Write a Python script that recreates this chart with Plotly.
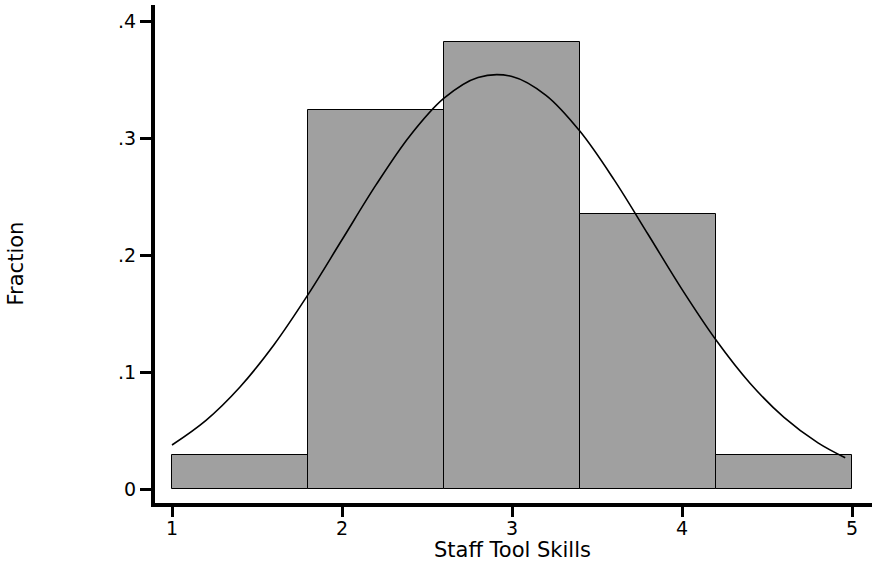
import plotly.graph_objects as go

# Histogram bins (centers) and fractions
bin_centers = [1.4, 2.2, 3.0, 3.8, 4.6]
bin_width = 0.8
fractions = [0.029, 0.324, 0.382, 0.235, 0.029]

# Overlaid normal curve
curve_x = [1.0, 1.2, 1.4, 1.6, 1.8, 2.0, 2.2, 2.4, 2.6, 2.8, 3.0,
           3.2, 3.4, 3.6, 3.8, 4.0, 4.2, 4.4, 4.6, 4.8, 4.96]
curve_y = [0.0376, 0.0587, 0.0872, 0.1233, 0.1661, 0.2130, 0.2599, 0.3020,
           0.3341, 0.3518, 0.3526, 0.3365, 0.3057, 0.2644, 0.2177, 0.1706,
           0.1273, 0.0904, 0.0612, 0.0394, 0.0267]

y_tickvals = [0, 0.1, 0.2, 0.3, 0.4]
y_ticktext = ["0", ".1", ".2", ".3", ".4"]
x_tickvals = [1, 2, 3, 4, 5]

FONT = "DejaVu Sans, Verdana, sans-serif"

fig = go.Figure()
fig.add_trace(go.Bar(
    x=bin_centers, y=fractions, width=bin_width,
    marker=dict(color="#a0a0a0", line=dict(color="black", width=1)),
    hoverinfo="skip", showlegend=False,
))
fig.add_trace(go.Scatter(
    x=curve_x, y=curve_y, mode="lines",
    line=dict(color="black", width=1.6, shape="spline"),
    hoverinfo="skip", showlegend=False,
))

fig.update_layout(
    width=874, height=569,
    margin=dict(l=155, r=2, t=5, b=66),
    paper_bgcolor="white", plot_bgcolor="white",
    font=dict(family=FONT, size=19, color="black"),
    bargap=0,
    xaxis=dict(
        range=[0.9, 5.1176], showgrid=False, zeroline=False,
        showline=True, linecolor="black", linewidth=4,
        ticks="outside", ticklen=10, tickwidth=3, tickcolor="black",
        tickvals=x_tickvals, ticktext=[str(v) for v in x_tickvals],
        tickfont=dict(size=19, family=FONT),
        ticklabelstandoff=-5,
    ),
    yaxis=dict(
        range=[-0.01197, 0.41368], showgrid=False, zeroline=False,
        showline=True, linecolor="black", linewidth=4,
        ticks="outside", ticklen=11, tickwidth=3, tickcolor="black",
        tickvals=y_tickvals, ticktext=y_ticktext,
        tickfont=dict(size=19, family=FONT),
    ),
    annotations=[
        dict(text="Staff Tool Skills", xref="paper", yref="paper",
             x=0.4986, y=-0.094, xanchor="center", yanchor="middle",
             showarrow=False, font=dict(size=21, family=FONT)),
        dict(text="Fraction", xref="paper", yref="paper",
             x=-0.1939, y=0.481, xanchor="center", yanchor="middle",
             textangle=-90, showarrow=False, font=dict(size=21, family=FONT)),
    ],
)

fig.write_html("out.html")
